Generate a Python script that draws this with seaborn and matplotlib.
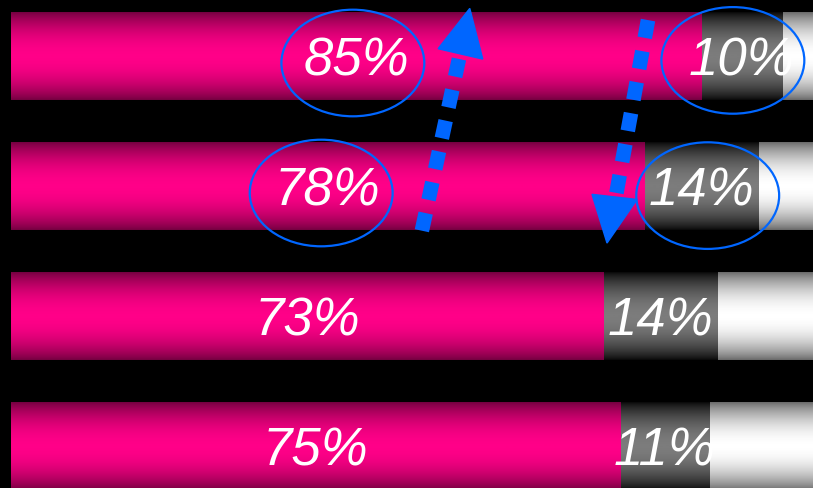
import matplotlib
matplotlib.use("Agg")
import matplotlib.pyplot as plt
import numpy as np
import pandas as pd
import seaborn as sns
from matplotlib.colors import LinearSegmentedColormap
from matplotlib.patches import Ellipse, Polygon

# Data: share of each segment per row (top row first)
rows = ["A", "B", "C", "D"]
pink_vals = [85, 78, 73, 75]
gray_vals = [10, 14, 14, 11]
white_vals = [5, 8, 13, 14]

df = pd.DataFrame({"row": rows, "pink": pink_vals, "gray": gray_vals, "white": white_vals})
df["pink_end"] = df["pink"]
df["gray_end"] = df["pink"] + df["gray"]
df["white_end"] = df["gray_end"] + df["white"]

BLUE = "#0066ff"
BAR_W = 0.67

# Colormaps: value 0 = bar edge, 1 = bar middle
cmaps = {
    "pink": LinearSegmentedColormap.from_list("pink", ["#740040", "#ff0088"]),
    "gray": LinearSegmentedColormap.from_list("gray", ["#0a0a0a", "#7c7c7c"]),
    "white": LinearSegmentedColormap.from_list("white", ["#6a6a6a", "#ffffff"]),
}

plt.rcParams["lines.scale_dashes"] = False
sns.set_style("dark")
plt.rcParams["font.family"] = ["Liberation Sans", "DejaVu Sans"]

fig = plt.figure(figsize=(8.13, 4.88), dpi=100, facecolor="black")
ax = fig.add_axes([0, 0, 1, 1])
ax.set_facecolor("black")

# vertical shading profile used inside each bar
t = np.linspace(0, 1, 120).reshape(-1, 1)
shade = np.sin(np.pi * t) ** 0.8

# Stacked bars drawn back to front, then shaded with a gradient image
for z, (seg, col) in enumerate([("white", "white_end"), ("gray", "gray_end"), ("pink", "pink_end")]):
    n_before = len(ax.patches)
    sns.barplot(data=df, x=col, y="row", orient="h", color=cmaps[seg](1.0),
                width=BAR_W, saturation=1, linewidth=0, edgecolor="none",
                ax=ax, zorder=z + 1)
    for p in ax.patches[n_before:]:
        x0, y0 = p.get_x(), p.get_y()
        ax.imshow(shade, cmap=cmaps[seg], vmin=0, vmax=1, aspect="auto",
                  extent=[x0, x0 + p.get_width(), y0 + p.get_height(), y0],
                  zorder=z + 1.5, interpolation="bilinear")

# Percent labels in the pink and gray segments
for i, r in df.iterrows():
    for start, val in [(0, r["pink"]), (r["pink"], r["gray"])]:
        ax.text(start + val / 2, i + 0.035, f"{val}%", color="white", fontsize=38,
                fontstyle="italic", ha="center", va="center", zorder=10)

# Highlight ellipses
for cx, cy in [(42.1, 0.05), (88.9, 0.03), (38.2, 1.05), (85.8, 1.07)]:
    ax.add_patch(Ellipse((cx, cy), 17.6, 0.82, fill=False, ec=BLUE, lw=1.6, zorder=11))

# Dotted arrows (up and down)
ax.plot([50.6, 55.3], [1.34, -0.02], color=BLUE, lw=10.5, dashes=(13, 9.7),
        dash_capstyle="butt", zorder=12)
ax.add_patch(Polygon([(56.5, -0.37), (52.6, -0.06), (58.1, 0.02)], closed=True,
                     color=BLUE, zorder=12))
ax.plot([78.45, 74.5], [-0.28, 1.07], color=BLUE, lw=10.5, dashes=(13, 9.7),
        dash_capstyle="butt", zorder=12)
ax.add_patch(Polygon([(73.4, 1.435), (71.55, 1.06), (77.1, 1.10)], closed=True,
                     color=BLUE, zorder=12))

ax.set_xlim(-11 / 8.12, 802 / 8.12)
ax.set_ylim(3.319, -0.4346)
ax.set_axis_off()

fig.savefig("out.png", dpi=100, facecolor="black")
